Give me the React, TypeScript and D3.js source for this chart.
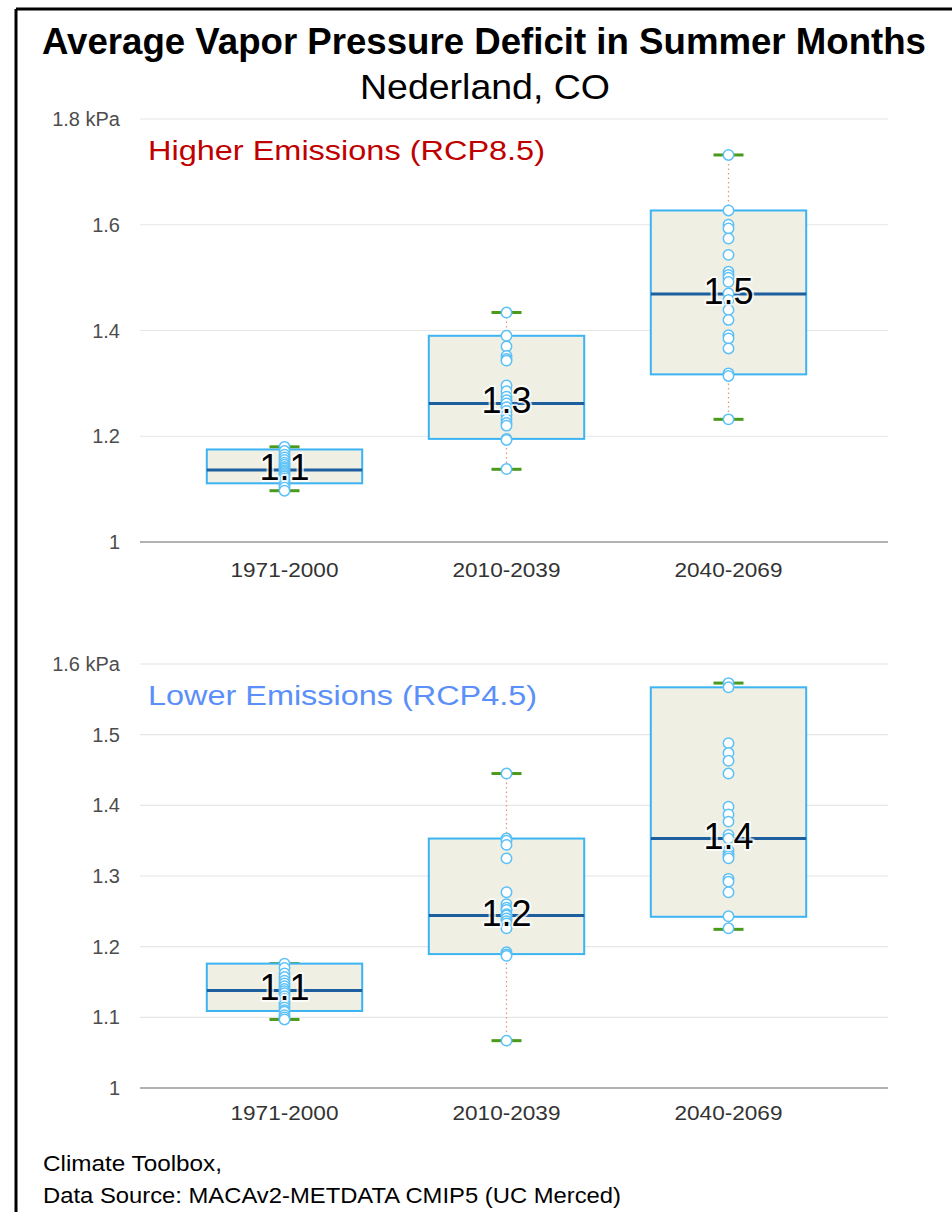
import React from "react";
import * as d3 from "d3";

const categories = ["1971-2000", "2010-2039", "2040-2069"];

// Higher emissions (RCP8.5)
const highMin = [1.097, 1.1375, 1.232];
const highQ1 = [1.111, 1.195, 1.317];
const highMedian = [1.136, 1.262, 1.469];
const highQ3 = [1.175, 1.39, 1.627];
const highMax = [1.18, 1.434, 1.732];
const highPoints1 = [1.18, 1.172, 1.165, 1.16, 1.155, 1.15, 1.146, 1.142, 1.139, 1.136, 1.133, 1.13, 1.127, 1.124, 1.12, 1.116, 1.112, 1.108, 1.103, 1.097];
const highPoints2 = [1.434, 1.39, 1.37, 1.352, 1.346, 1.343, 1.296, 1.285, 1.275, 1.268, 1.262, 1.255, 1.248, 1.24, 1.232, 1.225, 1.22, 1.195, 1.193, 1.138];
const highPoints3 = [1.732, 1.627, 1.6, 1.593, 1.574, 1.543, 1.511, 1.505, 1.5, 1.492, 1.47, 1.458, 1.439, 1.42, 1.391, 1.385, 1.366, 1.319, 1.314, 1.232];
const highTicks = [1, 1.2, 1.4, 1.6, 1.8];

// Lower emissions (RCP4.5)
const lowMin = [1.097, 1.067, 1.2245];
const lowQ1 = [1.109, 1.1895, 1.2423];
const lowMedian = [1.138, 1.244, 1.353];
const lowQ3 = [1.176, 1.353, 1.567];
const lowMax = [1.176, 1.445, 1.573];
const lowPoints1 = [1.176, 1.17, 1.162, 1.157, 1.152, 1.148, 1.144, 1.14, 1.137, 1.134, 1.13, 1.126, 1.122, 1.118, 1.114, 1.11, 1.108, 1.103, 1.1, 1.097];
const lowPoints2 = [1.445, 1.353, 1.35, 1.344, 1.325, 1.277, 1.26, 1.255, 1.252, 1.246, 1.244, 1.24, 1.236, 1.233, 1.228, 1.226, 1.192, 1.189, 1.187, 1.067];
const lowPoints3 = [1.573, 1.567, 1.488, 1.474, 1.463, 1.445, 1.398, 1.387, 1.377, 1.358, 1.353, 1.336, 1.331, 1.328, 1.325, 1.296, 1.292, 1.277, 1.243, 1.226];
const lowTicks = [1, 1.1, 1.2, 1.3, 1.4, 1.5, 1.6];

const W = 952;
const H = 1212;
const CONDENSED = "'Liberation Sans Narrow', 'Arial Narrow', 'Liberation Sans', Arial, sans-serif";
const SANS = "'Liberation Sans', Arial, Helvetica, sans-serif";

type PanelProps = {
  top: number;
  bottom: number;
  domain: [number, number];
  ticks: number[];
  mins: number[];
  q1s: number[];
  medians: number[];
  q3s: number[];
  maxs: number[];
  points: number[][];
  label: string;
  labelColor: string;
  labelY: number;
  labelLength: number;
  xLabelY: number;
};

function Panel(p: PanelProps) {
  const y = d3.scaleLinear().domain(p.domain).range([p.bottom, p.top]);
  const x = d3.scaleBand().domain(categories).range([173.5, 839.5]).paddingInner(0.3).paddingOuter(0.15);
  const gridX0 = 140;
  const gridX1 = 888;
  const fmt = d3.format(".1f");
  const tickFmt = (v: number) => (v === 1 ? "1" : d3.format(".1f")(v));
  const bw = x.bandwidth();
  return (
    <g>
      {p.ticks.map((t, i) => (
        <g key={"t" + i}>
          <line
            x1={gridX0}
            x2={gridX1}
            y1={y(t)}
            y2={y(t)}
            stroke={t === p.domain[0] ? "#666" : "#e6e6e6"}
            strokeWidth={1.2}
          />
          <text
            x={120}
            y={y(t)}
            dy="0.35em"
            textAnchor="end"
            fontFamily={SANS}
            fontSize={20}
            fill="#4d4d4d"
          >
            {tickFmt(t) + (i === p.ticks.length - 1 ? " kPa" : "")}
          </text>
        </g>
      ))}
      <text
        x={148}
        y={p.labelY}
        fontFamily={SANS}
        fontSize={27}
        fill={p.labelColor}
        textLength={p.labelLength}
        lengthAdjust="spacingAndGlyphs"
      >
        {p.label}
      </text>
      {categories.map((c, i) => {
        const cx = (x(c) as number) + bw / 2;
        return (
          <g key={c}>
            <text
              x={cx}
              y={p.xLabelY}
              textAnchor="middle"
              fontFamily={CONDENSED}
              fontSize={20}
              fill="#333"
              textLength={108}
              lengthAdjust="spacingAndGlyphs"
            >
              {c}
            </text>
            <line x1={cx} x2={cx} y1={y(p.maxs[i])} y2={y(p.q3s[i])} stroke="#e39a7c" strokeWidth={1.3} strokeDasharray="1.5,3" />
            <line x1={cx} x2={cx} y1={y(p.q1s[i])} y2={y(p.mins[i])} stroke="#e39a7c" strokeWidth={1.3} strokeDasharray="1.5,3" />
            <line x1={cx - 15} x2={cx + 15} y1={y(p.maxs[i])} y2={y(p.maxs[i])} stroke="#4a9a1c" strokeWidth={3} />
            <line x1={cx - 15} x2={cx + 15} y1={y(p.mins[i])} y2={y(p.mins[i])} stroke="#4a9a1c" strokeWidth={3} />
            <rect
              x={x(c) as number}
              y={y(p.q3s[i])}
              width={bw}
              height={y(p.q1s[i]) - y(p.q3s[i])}
              fill="#efefe3"
              stroke="#3cb3f3"
              strokeWidth={2}
            />
            <line x1={x(c) as number} x2={(x(c) as number) + bw} y1={y(p.medians[i])} y2={y(p.medians[i])} stroke="#1c5e9e" strokeWidth={3} />
            {p.points[i].map((v, j) => (
              <circle key={j} cx={cx} cy={y(v)} r={5.2} fill="#fff" stroke="#5cc1f7" strokeWidth={1.5} />
            ))}
            <text
              x={cx}
              y={y(p.medians[i]) + 10}
              textAnchor="middle"
              fontFamily={SANS}
              fontSize={36}
              fill="#000"
              stroke="#fff"
              strokeWidth={4}
              strokeOpacity={0.75}
              strokeLinejoin="round"
              style={{ paintOrder: "stroke" }}
            >
              {fmt(p.medians[i])}
            </text>
          </g>
        );
      })}
    </g>
  );
}

export default function App() {
  return (
    <svg
      width={W}
      height={H}
      viewBox={`0 0 ${W} ${H}`}
      style={{ position: "absolute", left: 0, top: 0, background: "#fff" }}
    >
      <rect x={0} y={0} width={W} height={H} fill="#fff" />
      <line x1={16} x2={W} y1={9} y2={9} stroke="#000" strokeWidth={3} />
      <line x1={16} x2={16} y1={9} y2={H} stroke="#000" strokeWidth={3} />
      <text
        x={484}
        y={54}
        textAnchor="middle"
        fontFamily={CONDENSED}
        fontWeight="bold"
        fontSize={36}
        fill="#000"
        textLength={884}
        lengthAdjust="spacingAndGlyphs"
      >
        Average Vapor Pressure Deficit in Summer Months
      </text>
      <text
        x={485}
        y={99}
        textAnchor="middle"
        fontFamily={CONDENSED}
        fontSize={35}
        fill="#000"
        textLength={250}
        lengthAdjust="spacingAndGlyphs"
      >
        Nederland, CO
      </text>
      <Panel
        top={119}
        bottom={542}
        domain={[1, 1.8]}
        ticks={highTicks}
        mins={highMin}
        q1s={highQ1}
        medians={highMedian}
        q3s={highQ3}
        maxs={highMax}
        points={[highPoints1, highPoints2, highPoints3]}
        label="Higher Emissions (RCP8.5)"
        labelColor="#c00000"
        labelY={160}
        labelLength={397}
        xLabelY={577}
      />
      <Panel
        top={664}
        bottom={1088}
        domain={[1, 1.6]}
        ticks={lowTicks}
        mins={lowMin}
        q1s={lowQ1}
        medians={lowMedian}
        q3s={lowQ3}
        maxs={lowMax}
        points={[lowPoints1, lowPoints2, lowPoints3]}
        label="Lower Emissions (RCP4.5)"
        labelColor="#5b8ff9"
        labelY={705}
        labelLength={389}
        xLabelY={1120}
      />
      <text x={43} y={1171} fontFamily={CONDENSED} fontSize={22} fill="#000" textLength={179} lengthAdjust="spacingAndGlyphs">
        Climate Toolbox,
      </text>
      <text x={43} y={1203} fontFamily={CONDENSED} fontSize={22} fill="#000" textLength={578} lengthAdjust="spacingAndGlyphs">
        Data Source: MACAv2-METDATA CMIP5 (UC Merced)
      </text>
    </svg>
  );
}
